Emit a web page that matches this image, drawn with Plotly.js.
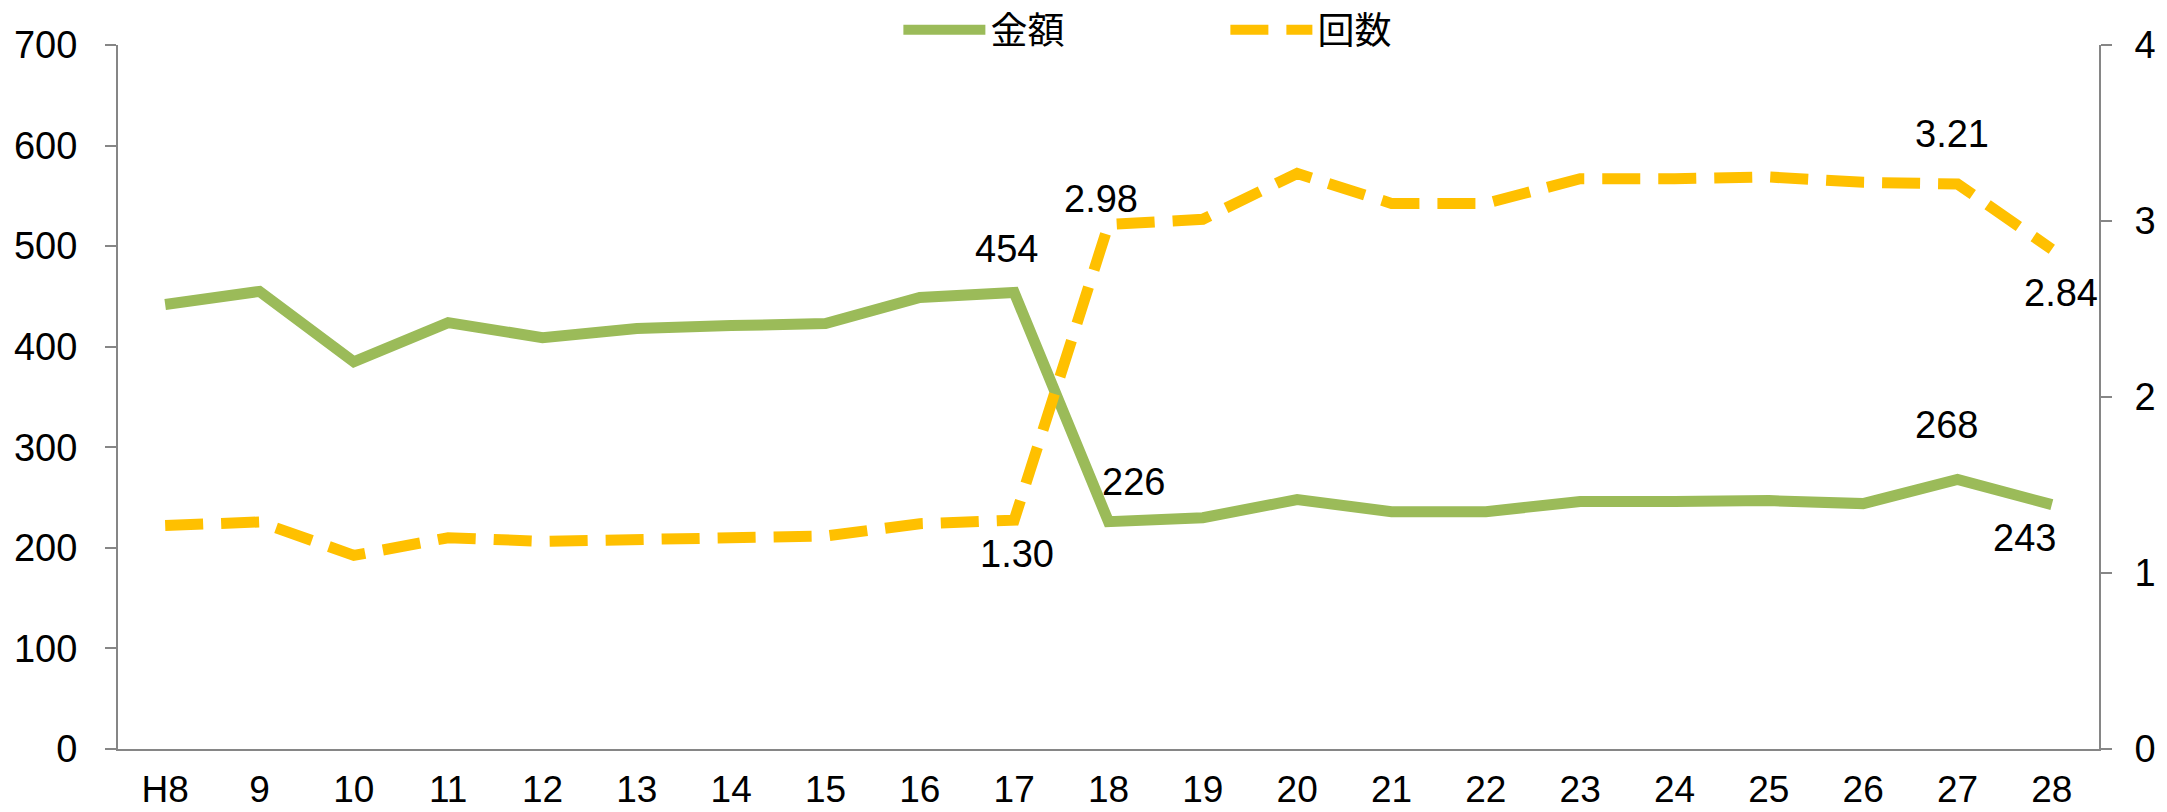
<!DOCTYPE html>
<html>
<head>
<meta charset="utf-8">
<script src="https://cdn.plot.ly/plotly-3.0.1.min.js"></script>
<style>html,body{margin:0;padding:0;background:#fff;}#chart{width:2167px;height:812px;}</style>
</head>
<body>
<div id="chart"></div>
<script>
const categories = ["H8","9","10","11","12","13","14","15","16","17","18","19","20","21","22","23","24","25","26","27","28"];
const kingaku = [442, 455, 385, 424, 409, 418, 421, 423, 449, 454, 226, 230, 248, 236, 236, 246, 246, 247, 244, 268, 243];
const kaisu = [1.27, 1.29, 1.10, 1.20, 1.18, 1.19, 1.20, 1.21, 1.28, 1.30, 2.98, 3.01, 3.27, 3.10, 3.10, 3.24, 3.24, 3.25, 3.22, 3.21, 2.84];
const leftTicks = [0, 100, 200, 300, 400, 500, 600, 700];
const rightTicks = [0, 1, 2, 3, 4];
const seriesNames = ["金額", "回数"];

// labelled points: index, shift
const kingakuLabels = [{i: 9, dx: -8, dy: 43}, {i: 10, dx: 25, dy: 40}, {i: 19, dx: -11, dy: 54}, {i: 20, dx: -27, dy: -33}];
const kaisuLabels = [{i: 9, dx: 3, dy: -34}, {i: 10, dx: -8, dy: 26}, {i: 19, dx: -6, dy: 50}, {i: 20, dx: 9, dy: -44}];

const numFont = "Liberation Sans Narrow, Arial Narrow, Liberation Sans, Arial, sans-serif";
const cjkFont = "Noto Sans CJK JP, sans-serif";
const fs = 38;
const green = "#9BBB59";
const orange = "#FFC000";
const axisGray = "#868686";

const traces = [
  {x: categories, y: kingaku, type: "scatter", mode: "lines", name: seriesNames[0],
   line: {color: green, width: 11}, yaxis: "y"},
  {x: categories, y: kaisu, type: "scatter", mode: "lines", name: seriesNames[1],
   line: {color: orange, width: 11, dash: "38px,18px"}, yaxis: "y2"}
];

const annotations = [];
kingakuLabels.forEach(l => annotations.push({
  x: l.i, y: kingaku[l.i], xref: "x", yref: "y", text: String(kingaku[l.i]),
  showarrow: false, xshift: l.dx, yshift: l.dy, font: {family: numFont, size: fs, color: "#000"}
}));
kaisuLabels.forEach(l => annotations.push({
  x: l.i, y: kaisu[l.i], xref: "x", yref: "y2", text: kaisu[l.i].toFixed(2),
  showarrow: false, xshift: l.dx, yshift: l.dy, font: {family: numFont, size: fs, color: "#000"}
}));

const layout = {
  width: 2167, height: 812,
  margin: {l: 118, r: 68, t: 45, b: 63, pad: 0, autoexpand: false},
  paper_bgcolor: "#fff", plot_bgcolor: "#fff",
  font: {family: numFont, size: fs, color: "#000"},
  showlegend: true,
  legend: {orientation: "h", x: 0.559, xanchor: "center", y: 1.021, yanchor: "middle",
           font: {family: cjkFont, size: 37, color: "#000"}, itemwidth: 82, entrywidth: 230,
           bgcolor: "rgba(0,0,0,0)"},
  xaxis: {type: "category", range: [-0.5, categories.length - 0.5], showgrid: false, zeroline: false,
          showline: true, linecolor: axisGray, linewidth: 2, ticks: "", tickfont: {family: numFont, size: 37},
          ticklabelstandoff: 7, fixedrange: true},
  yaxis: {range: [0, 700], tickvals: leftTicks, showgrid: false, zeroline: false, showline: true,
          linecolor: axisGray, linewidth: 2, ticks: "outside", ticklen: 11, tickwidth: 2, tickcolor: axisGray,
          ticklabelstandoff: 20, tickfont: {family: numFont, size: fs}},
  yaxis2: {range: [0, 4], tickvals: rightTicks, overlaying: "y", side: "right", showgrid: false, zeroline: false,
           showline: true, linecolor: axisGray, linewidth: 2, ticks: "outside", ticklen: 11, tickwidth: 2,
           tickcolor: axisGray, ticklabelstandoff: 15, tickfont: {family: numFont, size: fs}},
  annotations: annotations
};

Plotly.newPlot("chart", traces, layout, {displayModeBar: false, staticPlot: true});
</script>
</body>
</html>
